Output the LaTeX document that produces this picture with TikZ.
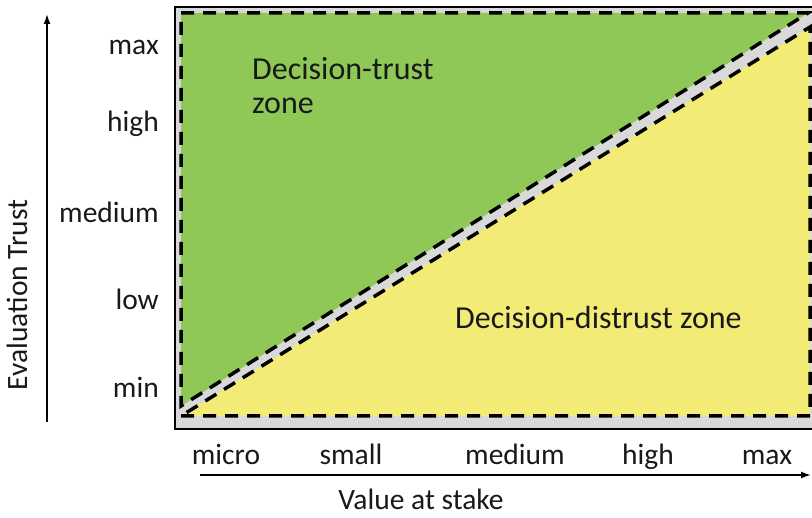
\documentclass[tikz,border=0pt]{standalone}
\usepackage{fontspec}
\setmainfont{Carlito}
\usetikzlibrary{arrows.meta}
\definecolor{trustgreen}{RGB}{144,200,88}
\definecolor{distrustyellow}{RGB}{242,235,118}
\definecolor{bandgray}{RGB}{217,217,217}
\tikzstyle{zoneline} = [line width=3.5pt, dash pattern=on 13pt off 9pt, draw=black]
\tikzstyle{axis} = [line width=1.5pt, -{Latex[length=10pt,width=7pt]}]
\tikzstyle{lbl} = [inner sep=0pt, text=black!90, font=\fontsize{29.5}{34}\selectfont]
\tikzstyle{zone} = [inner sep=0pt, text=black!90, align=left, font=\fontsize{32}{34}\selectfont]
\def\frameleft{175}
\def\framebottom{429}

\begin{document}
\begin{tikzpicture}[x=1pt,y=-1pt]

\useasboundingbox (0,0) rectangle (812,518);

% frame with grey band
\draw[fill=bandgray, line width=2pt] (\frameleft,7) rectangle (818,\framebottom);

% zones
\draw[fill=trustgreen, zoneline] (181,13) -- (808,13) -- (181,406) -- cycle;
\draw[fill=distrustyellow, zoneline] (181,416) -- (810,416) -- (810,27) -- cycle;

\node[zone, anchor=base west] (trust) at (252,114) {Decision-trust\\zone};
\node[zone, anchor=base west] (distrust) at (455,329) {Decision-distrust zone};

% axes
\coordinate (ybot) at (47,422);
\coordinate (ytop) at (47,14);
\coordinate (xleft) at (200,475);
\coordinate (xright) at (811,475);
\draw[axis] (ybot) -- (ytop);
\draw[axis] (xleft) -- (xright);

\node[lbl, rotate=90] (ytitle) at (17,295) {Evaluation Trust};
\node[lbl, anchor=base] (xtitle) at (421,510) {Value at stake};

% trust levels
\node[lbl, anchor=base east] (tmax) at (159,55) {max};
\node[lbl, anchor=base east] (thigh) at (159,132) {high};
\node[lbl, anchor=base east] (tmedium) at (159,223) {medium};
\node[lbl, anchor=base east] (tlow) at (159,310) {low};
\node[lbl, anchor=base east] (tmin) at (159,398) {min};

% value levels
\node[lbl, anchor=base] (vmicro) at (226,465) {micro};
\node[lbl, anchor=base] (vsmall) at (351,465) {small};
\node[lbl, anchor=base] (vmedium) at (515,465) {medium};
\node[lbl, anchor=base] (vhigh) at (648,465) {high};
\node[lbl, anchor=base] (vmax) at (767,465) {max};

\end{tikzpicture}
\end{document}
